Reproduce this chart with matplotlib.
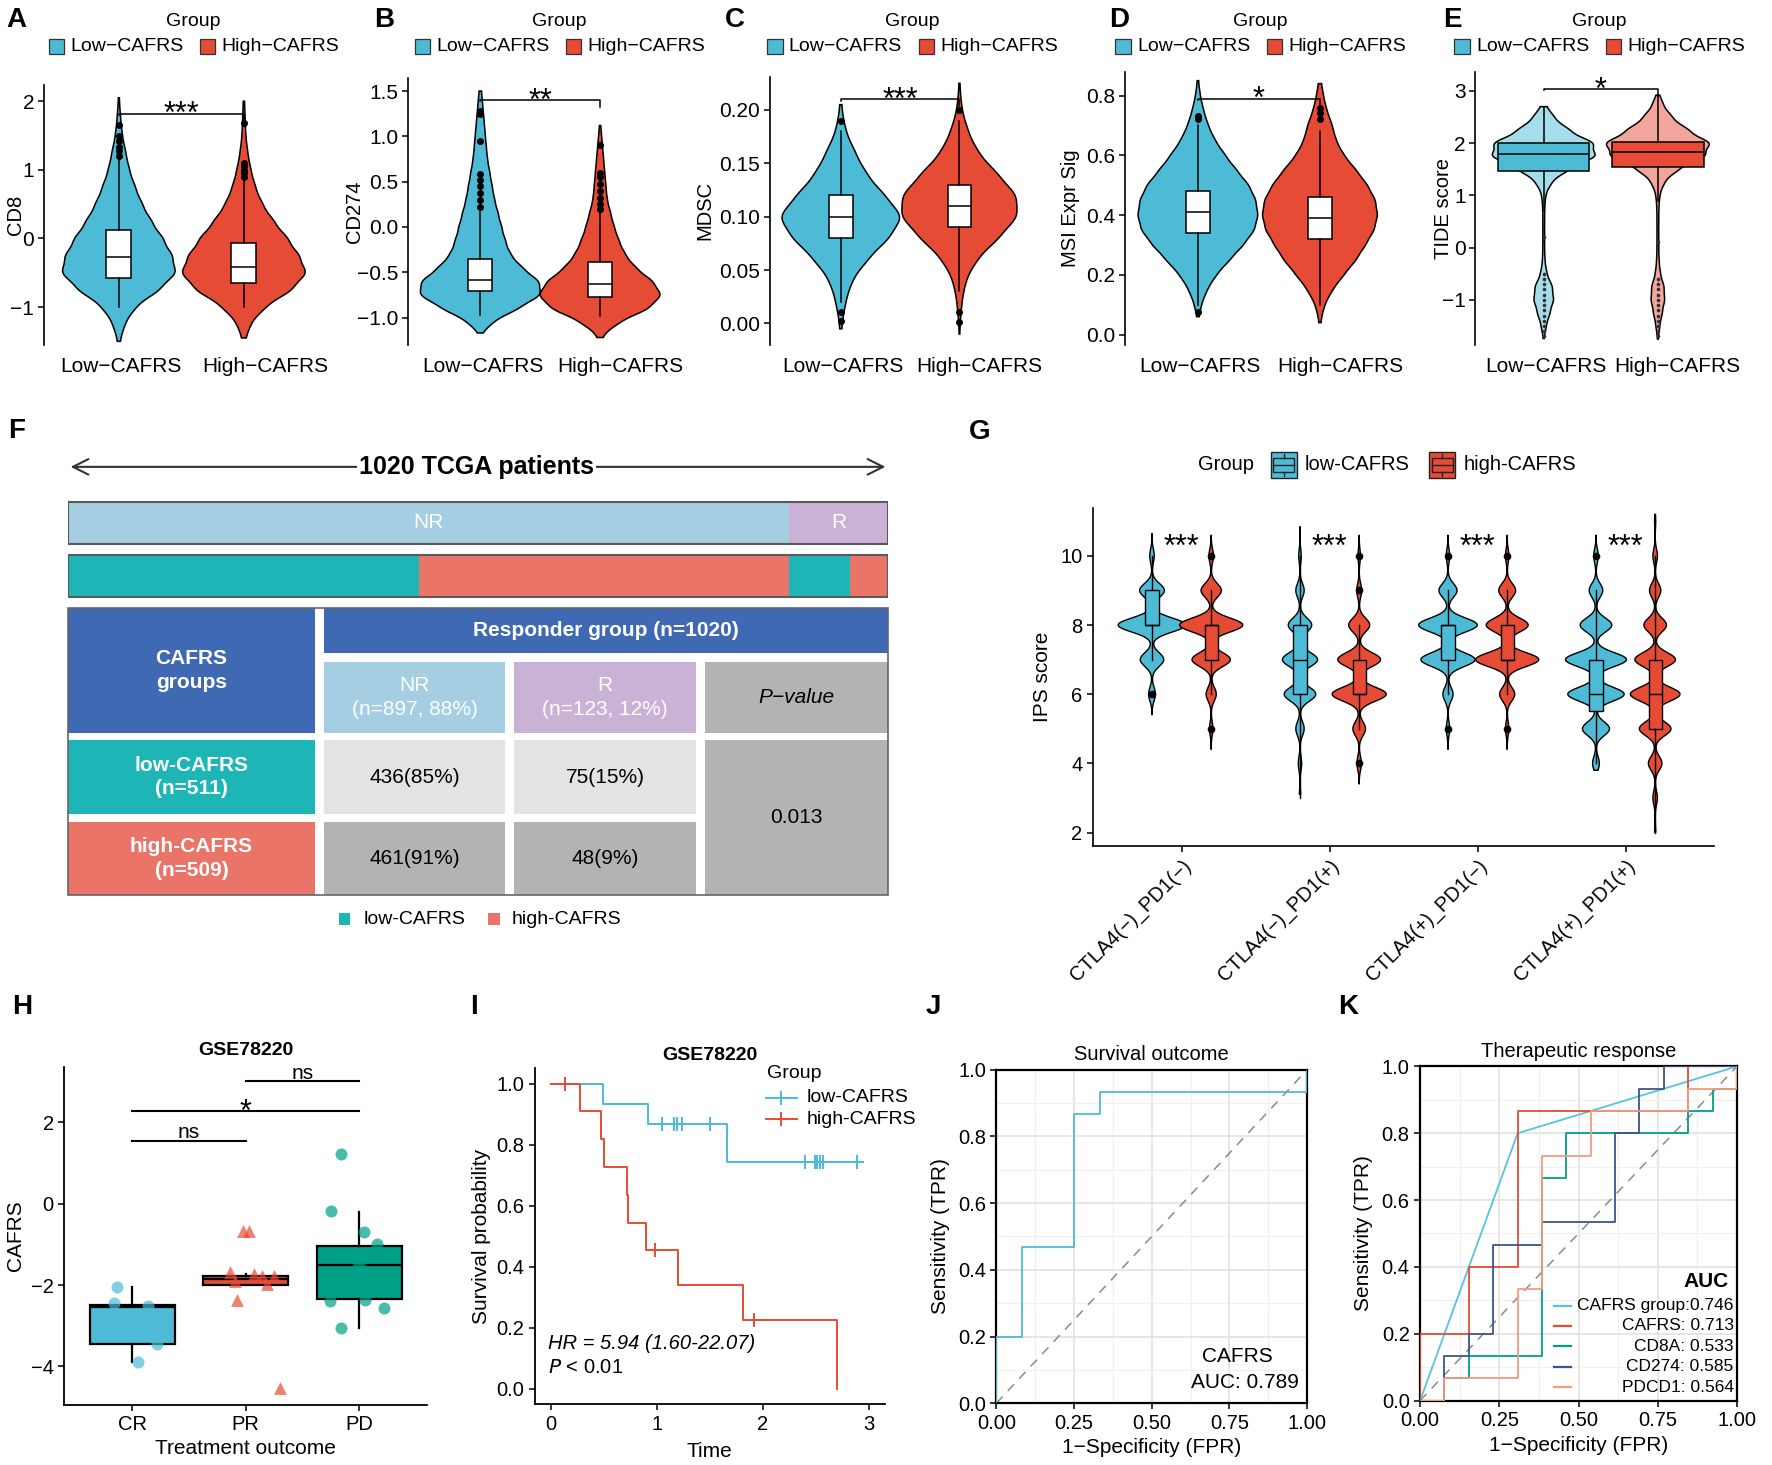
import numpy as np
import matplotlib
matplotlib.use('Agg')
import matplotlib.pyplot as plt
from matplotlib.patches import Rectangle

plt.rcParams['font.family'] = ['Liberation Sans', 'DejaVu Sans']

BLUE, RED, TEAL = '#4DBBD5', '#E64B35', '#00A087'
NAVY, SALMON = '#3C5488', '#F39B7F'
LBLUE, LRED = '#A6DDEA', '#F2A59A'

# ---------------- data: A-E violins ----------------
top_groups = ['Low\u2212CAFRS', 'High\u2212CAFRS']

cd8_levels = [-1.5, -1.25, -1.0, -0.75, -0.5, -0.25, 0.0, 0.25, 0.5, 0.75, 1.0, 1.25, 1.5, 1.75, 2.0]
cd8_dens = [[0.02, 0.1, 0.28, 0.7, 1.0, 0.92, 0.76, 0.56, 0.4, 0.28, 0.18, 0.12, 0.06, 0.03, 0.01],
            [0.02, 0.1, 0.33, 0.76, 1.0, 0.87, 0.69, 0.47, 0.29, 0.18, 0.11, 0.06, 0.03, 0.02, 0.01]]
cd8_range = [(-1.5, 2.05), (-1.45, 2.0)]
cd8_box = [(-1.0, -0.57, -0.27, 0.13, 1.15), (-1.0, -0.65, -0.42, -0.07, 0.85)]
cd8_out = [[1.2, 1.27, 1.33, 1.42, 1.5, 1.65], [0.9, 0.95, 1.0, 1.05, 1.1, 1.68]]
cd8_sig = (1.82, '***')

cd274_levels = [-1.2, -1.05, -0.9, -0.75, -0.6, -0.45, -0.3, -0.15, 0.0, 0.15, 0.3, 0.45,
                0.6, 0.75, 0.9, 1.05, 1.2, 1.35, 1.5]
cd274_dens = [[0, 10, 32, 52, 50, 35, 25, 21, 18, 15, 12, 10, 8, 6, 5, 4, 3, 2, 1],
              [2, 16, 42, 53, 45, 30, 21, 16, 12, 9, 6, 5, 4, 3, 2, 1, 0, 0, 0]]
cd274_range = [(-1.17, 1.5), (-1.22, 1.12)]
cd274_box = [(-0.97, -0.71, -0.58, -0.35, 0.17), (-0.98, -0.77, -0.63, -0.39, 0.15)]
cd274_out = [[0.22, 0.3, 0.38, 0.45, 0.52, 0.58, 0.95, 1.25, 1.28],
             [0.2, 0.25, 0.32, 0.4, 0.47, 0.55, 0.6, 0.9]]
cd274_sig = (1.40, '**')

mdsc_levels = [0.0, 0.02, 0.04, 0.06, 0.08, 0.10, 0.12, 0.14, 0.16, 0.18, 0.20, 0.22]
mdsc_dens = [[1, 4, 9, 22, 40, 52, 36, 21, 12, 4, 1, 0],
             [0.5, 2, 5, 14, 32, 48, 47, 31, 15, 7, 2, 0.5]]
mdsc_range = [(-0.005, 0.205), (-0.01, 0.225)]
mdsc_box = [(0.02, 0.08, 0.10, 0.12, 0.18), (0.03, 0.09, 0.11, 0.13, 0.19)]
mdsc_out = [[0.011, 0.002, 0.19], [0.011, 0.001, 0.20]]
mdsc_sig = (0.21, '***')

msi_levels = [0.05, 0.1, 0.15, 0.2, 0.25, 0.3, 0.35, 0.4, 0.45, 0.5, 0.55, 0.6, 0.65, 0.7,
              0.75, 0.8, 0.85]
msi_dens = [[0.5, 3, 8, 16, 28, 40, 50, 53, 51, 45, 34, 24, 15, 9, 5, 2, 0.5],
            [1, 4, 11, 21, 32, 40, 48, 51, 49, 42, 32, 21, 14, 11, 6, 3, 1]]
msi_range = [(0.06, 0.85), (0.04, 0.84)]
msi_box = [(0.1, 0.34, 0.41, 0.48, 0.70), (0.1, 0.32, 0.39, 0.46, 0.68)]
msi_out = [[0.077, 0.72, 0.73], [0.72, 0.74, 0.76]]
msi_sig = (0.79, '*')

tide_levels = [-1.75, -1.5, -1.25, -1.0, -0.75, -0.5, -0.25, 0.0, 0.25, 0.5, 0.75, 1.0,
               1.25, 1.5, 1.75, 2.0, 2.25, 2.5, 2.75, 3.0]
tide_dens = [[0.3, 2, 5, 8, 7, 2.5, 1, 0.7, 0.7, 0.7, 0.8, 1.5, 6, 20, 42, 40, 20, 8, 1.5, 0],
             [0.3, 1.5, 3.5, 5.5, 5, 2, 1, 0.7, 0.7, 0.7, 0.8, 1.5, 5, 16, 38, 42, 24, 11, 4, 0.5]]
tide_range = [(-1.74, 2.70), (-1.75, 2.92)]
tide_box = [(0.7, 1.47, 1.80, 2.01, 2.70), (0.9, 1.55, 1.83, 2.03, 2.92)]
tide_out = [[-1.7, -1.6, -1.5, -1.4, -1.3, -1.2, -1.1, -1.0, -0.9, -0.8, -0.7, -0.6, -0.5, 0.2],
            [-1.7, -1.6, -1.5, -1.4, -1.3, -1.2, -1.1, -1.0, -0.9, -0.8, -0.7, -0.6, 0.1]]
tide_sig = (3.04, '*')

# ---------------- data: F ----------------
resp_labels = ['NR', 'R']
resp_counts = [897, 123]
low_counts = [436, 75]
high_counts = [461, 48]
p_value = '0.013'

# ---------------- data: G ----------------
g_groups = ['CTLA4(\u2212)_PD1(\u2212)', 'CTLA4(\u2212)_PD1(+)', 'CTLA4(+)_PD1(\u2212)', 'CTLA4(+)_PD1(+)']
g_levels = [2, 3, 4, 5, 6, 7, 8, 9, 10, 11]
g_low_dens = [[0, 0, 0, 0, 3, 10.4, 30, 11, 2, 0],
              [0, 0.7, 1.5, 3.7, 14, 15.6, 10.4, 3.7, 1.1, 0],
              [0, 0, 0, 1.5, 4.5, 24, 26, 8, 1.5, 0],
              [0, 0, 3, 12, 25, 27, 14, 6, 2, 0]]
g_high_dens = [[0, 0, 0, 1.5, 4.5, 17, 28, 9, 2, 0],
               [0, 0, 2, 5.6, 24, 19, 9.3, 2.2, 1.1, 0],
               [0, 0, 0, 1.5, 6.7, 28, 18.6, 7.5, 1.5, 0],
               [0.5, 2, 6, 14, 22, 18, 10, 5, 2, 0.5]]
g_low_range = [(5.4, 10.65), (3.1, 10.85), (4.4, 10.6), (3.8, 10.6)]
g_high_range = [(4.4, 10.6), (3.4, 10.6), (4.4, 10.6), (2.0, 11.2)]
g_low_box = [(7, 8, 8, 9, 10), (3, 6, 7, 8, 10), (6, 7, 8, 8, 9), (4, 5.5, 6, 7, 9)]
g_high_box = [(6, 7, 8, 8, 9), (5, 6, 6, 7, 8), (6, 7, 7, 8, 9), (2, 5, 6, 7, 10)]
g_low_out = [[6], [], [5, 10], [10]]
g_high_out = [[5, 10], [4, 9, 10], [5, 10], []]
g_sig = ['***', '***', '***', '***']

# ---------------- data: H ----------------
h_groups = ['CR', 'PR', 'PD']
h_box = [(-3.9, -3.45, -2.55, -2.5, -2.05), (-2.0, -2.0, -1.86, -1.77, -1.72),
         (-3.05, -2.35, -1.5, -1.03, -0.2)]
cr_vals = [-2.05, -2.45, -2.52, -3.45, -3.9]
cr_jit = [-0.13, -0.16, 0.14, 0.22, 0.05]
pr_vals = [-0.66, -0.66, -1.68, -1.72, -1.77, -1.77, -1.89, -1.97, -2.36, -4.53]
pr_jit = [-0.02, 0.03, -0.14, 0.07, 0.14, 0.25, -0.09, 0.19, -0.08, 0.30]
pd_vals = [1.22, -0.19, -0.70, -0.99, -1.5, -2.38, -2.40, -2.56, -3.05]
pd_jit = [-0.16, -0.25, 0.04, 0.16, 0.0, 0.05, -0.26, 0.22, -0.16]
h_comp = [(1, 2, 1.55, 'ns'), (1, 3, 2.28, '*'), (2, 3, 3.01, 'ns')]

# ---------------- data: I (Kaplan-Meier) ----------------
km_low_t = [0.0, 0.49, 0.92, 1.66, 2.92]
km_low_s = [1.0, 0.933, 0.867, 0.743, 0.743]
km_low_cens = [1.05, 1.16, 1.19, 1.24, 1.50, 2.40, 2.49, 2.51, 2.54, 2.57, 2.89]
km_high_t = [0.0, 0.28, 0.47, 0.50, 0.72, 0.73, 0.90, 1.20, 1.81, 2.70]
km_high_s = [1.0, 0.909, 0.818, 0.727, 0.636, 0.545, 0.455, 0.341, 0.227, 0.0]
km_high_cens = [0.13, 0.98, 1.92]

# ---------------- data: J / K (ROC) ----------------
j_fpr = [0, 0, 0.083, 0.083, 0.25, 0.25, 0.333, 0.333, 1, 1]
j_tpr = [0, 0.2, 0.2, 0.467, 0.467, 0.867, 0.867, 0.933, 0.933, 1]
j_auc = 0.789

k_names = ['CAFRS group', 'CAFRS', 'CD8A', 'CD274', 'PDCD1']
k_auc = [0.746, 0.713, 0.533, 0.585, 0.564]
k_fpr = [[0, 0.308, 1],
         [0, 0, 0.154, 0.154, 0.308, 0.308, 0.846, 0.846, 1],
         [0, 0.077, 0.077, 0.154, 0.154, 0.385, 0.385, 0.462, 0.462, 0.846, 0.846, 0.923, 0.923, 1, 1],
         [0, 0.077, 0.077, 0.154, 0.154, 0.231, 0.231, 0.385, 0.385, 0.615, 0.615, 0.692, 0.692,
          0.769, 0.769, 1],
         [0, 0.077, 0.077, 0.308, 0.308, 0.385, 0.385, 0.538, 0.538, 0.846, 0.846, 1, 1]]
k_tpr = [[0, 0.8, 1],
         [0, 0.2, 0.2, 0.4, 0.4, 0.867, 0.867, 1, 1],
         [0, 0, 0.067, 0.067, 0.133, 0.133, 0.667, 0.667, 0.8, 0.8, 0.867, 0.867, 0.933, 0.933, 1],
         [0, 0, 0.133, 0.133, 0.2, 0.2, 0.467, 0.467, 0.533, 0.533, 0.8, 0.8, 0.933, 0.933, 1, 1],
         [0, 0, 0.067, 0.067, 0.333, 0.333, 0.733, 0.733, 0.867, 0.867, 0.933, 0.933, 1]]
k_colors = ['#56C3E0', RED, TEAL, NAVY, SALMON]

# ---------------- figure ----------------
W, H = 1568, 1296   # layout grid of the reference
fig = plt.figure(figsize=(17.72, 14.65), dpi=100)


def px_axes(x0, y0, x1, y1):
    return fig.add_axes([x0 / W, 1 - y1 / H, (x1 - x0) / W, (y1 - y0) / H])


def tick_labels(vals, fmt):
    return [(fmt % v).replace('-', '\u2212') for v in vals]


def violin(ax, x, levels, dens, rng, half, bw, fc, lw=1.1):
    lv = np.array(levels, float)
    dv = np.array(dens, float)
    grid = np.linspace(rng[0], rng[1], 400)
    prof = (dv * np.exp(-0.5 * ((grid[:, None] - lv) / bw) ** 2)).sum(axis=1)
    prof = prof / prof.max() * half
    ax.fill(np.r_[x - prof, (x + prof)[::-1]], np.r_[grid, grid[::-1]],
            fc=fc, ec='black', lw=lw, zorder=2)


def draw_boxes(ax, pos, stats, outs, width, fcs, lw=1.1, ms=4.0, fcol='black'):
    st = [dict(whislo=s[0], q1=s[1], med=s[2], q3=s[3], whishi=s[4],
               fliers=np.array(o, float)) for s, o in zip(stats, outs)]
    art = ax.bxp(st, positions=pos, widths=width, patch_artist=True, showcaps=False,
                 showfliers=True, manage_ticks=False,
                 boxprops=dict(edgecolor='black', linewidth=lw),
                 medianprops=dict(color='black', linewidth=lw),
                 whiskerprops=dict(color='black', linewidth=lw),
                 flierprops=dict(marker='o', markerfacecolor=fcol,
                                 markeredgecolor=fcol, markersize=ms))
    for patch, fc in zip(art['boxes'], fcs):
        patch.set_facecolor(fc)
    for key in art:
        for a in art[key]:
            a.set_zorder(3)


def star(ax, x, y, label, fs=22, dy=-7):
    ax.annotate(label, xy=(x, y), xytext=(0, dy), textcoords='offset points',
                ha='center', va='baseline', fontsize=fs)


# ---------------- A-E ----------------
# (ylabel, ..., axes rect, ylim, yticks, fmt, half widths, bw, box width, tide, ylabel right edge)
top_panels = [
    ('CD8', cd8_levels, cd8_dens, cd8_range, cd8_box, cd8_out, cd8_sig,
     (38.8, 75, 282.2, 305), (-1.55, 2.24), [-1, 0, 1, 2], '%d', (0.45, 0.49), 0.13, 0.2, False, 22),
    ('CD274', cd274_levels, cd274_dens, cd274_range, cd274_box, cd274_out, cd274_sig,
     (361.4, 69.3, 594.6, 305), (-1.30, 1.64), [-1.0, -0.5, 0.0, 0.5, 1.0, 1.5], '%.1f',
     (0.5, 0.5), 0.08, 0.2, False, 322),
    ('MDSC', mdsc_levels, mdsc_dens, mdsc_range, mdsc_box, mdsc_out, mdsc_sig,
     (681, 68, 912, 305), (-0.020, 0.231), [0.0, 0.05, 0.10, 0.15, 0.20], '%.2f',
     (0.495, 0.485), 0.011, 0.2, False, 632),
    ('MSI Expr Sig', msi_levels, msi_dens, msi_range, msi_box, msi_out, msi_sig,
     (995.2, 63.4, 1232.8, 305), (-0.034, 0.88), [0.0, 0.2, 0.4, 0.6, 0.8], '%.1f',
     (0.49, 0.47), 0.028, 0.2, False, 956),
    ('TIDE score', tide_levels, tide_dens, tide_range, tide_box, tide_out, tide_sig,
     (1305.4, 63.4, 1527.6, 305), (-1.86, 3.37), [-1, 0, 1, 2, 3], '%d',
     (0.45, 0.45), 0.12, 0.8, True, 1286),
]

for (ylab, lev, dens, rng, box, outs, sig, rect, ylim, yt, fmt, half, bw, bwid, tide, ylr) in top_panels:
    ax = px_axes(*rect)
    vcols = [LBLUE, LRED] if tide else [BLUE, RED]
    bcols = [BLUE, RED] if tide else ['white', 'white']
    for i in range(2):
        violin(ax, i + 1, lev, dens[i], rng[i], half[i], bw, vcols[i])
    if tide:
        draw_boxes(ax, [1, 2], box, outs, bwid, bcols, ms=1.6, fcol='#333333')
    else:
        draw_boxes(ax, [1, 2], box, outs, bwid, bcols, ms=4.0)
    tip = 0.025 * (ylim[1] - ylim[0])
    ax.plot([1, 1, 2, 2], [sig[0] - tip * 0.2, sig[0], sig[0], sig[0] - tip],
            color='black', lw=1.1, zorder=4)
    star(ax, 1.5, sig[0], sig[1])
    ax.set_xlim(0.4, 2.6)
    ax.set_ylim(*ylim)
    ax.set_yticks(yt)
    ax.set_yticklabels(tick_labels(yt, fmt))
    # category labels sit a little right of the second violin, as in the reference
    ax.set_xticks([1.02, 2.17])
    ax.set_xticklabels(top_groups)
    for s in ['top', 'right', 'bottom']:
        ax.spines[s].set_visible(False)
    ax.spines['left'].set_linewidth(1.2)
    ax.tick_params(axis='y', length=4, width=1.1, labelsize=15, pad=3)
    ax.tick_params(axis='x', length=0, labelsize=15, pad=9)
    ax.set_ylabel(ylab, fontsize=14.5)
    ax.yaxis.set_label_coords((ylr - rect[0]) / (rect[2] - rect[0]), 0.5)
    ax.patch.set_alpha(0)

# ---------------- F: stacked bars ----------------
axb = px_axes(60, 440, 786, 532)
axb.barh(462.5, resp_counts, left=[0, resp_counts[0]], height=37,
         color=['#A6CEE3', '#CAB2D6'])
seg = [low_counts[0], high_counts[0], low_counts[1], high_counts[1]]
axb.barh(509.5, seg, left=np.r_[0, np.cumsum(seg)[:-1]], height=37,
         color=['#1DB5B5', '#EB7469', '#1DB5B5', '#EB7469'])
for yc in [462.5, 509.5]:
    axb.barh(yc, sum(resp_counts), height=37, fill=False, edgecolor='#5A5A5A', lw=1.5)
axb.text(resp_counts[0] / 2, 462.5, resp_labels[0], ha='center', va='center', color='white', fontsize=15)
axb.text(resp_counts[0] + resp_counts[1] / 2, 462.5, resp_labels[1], ha='center', va='center',
         color='white', fontsize=15)
axb.set_xlim(0, sum(resp_counts))
axb.set_ylim(532, 440)
axb.axis('off')

# ---------------- G ----------------
axg = px_axes(967, 449.8, 1517, 748.4)
gx = np.arange(1, len(g_groups) + 1)
for i, g in enumerate(gx):
    violin(axg, g - 0.2, g_levels, g_low_dens[i], g_low_range[i], max(g_low_dens[i]) / 131.3,
           0.2, BLUE, lw=1.0)
    violin(axg, g + 0.2, g_levels, g_high_dens[i], g_high_range[i], max(g_high_dens[i]) / 131.3,
           0.2, RED, lw=1.0)
draw_boxes(axg, gx - 0.2, g_low_box, g_low_out, 0.09, [BLUE] * 4, lw=1.0, ms=4.5)
draw_boxes(axg, gx + 0.2, g_high_box, g_high_out, 0.09, [RED] * 4, lw=1.0, ms=4.5)
for g, s in zip(gx, g_sig):
    axg.text(g, 10.0, s, ha='center', va='baseline', fontsize=22)
axg.set_xlim(0.4, 4.6)
axg.set_ylim(1.61, 11.37)
axg.set_yticks([2, 4, 6, 8, 10])
axg.set_xticks(gx)
axg.set_xticklabels(g_groups, rotation=45, ha='right', rotation_mode='anchor')
for s in ['top', 'right']:
    axg.spines[s].set_visible(False)
axg.spines['left'].set_linewidth(1.2)
axg.spines['bottom'].set_linewidth(1.2)
axg.tick_params(length=4, width=1.1, labelsize=14.5)
axg.set_ylabel('IPS score', fontsize=15, labelpad=6)

# ---------------- H ----------------
axh = px_axes(56.7, 943.5, 378, 1242.5)
h_cols = [BLUE, RED, TEAL]
draw_boxes(axh, [1, 2, 3], h_box, [[], [], []], 0.75, h_cols, lw=1.6)
axh.scatter(1 + np.array(cr_jit), cr_vals, s=75, color=BLUE, alpha=0.7, lw=0, zorder=5)
axh.scatter(2 + np.array(pr_jit), pr_vals, s=85, marker='^', color=RED, alpha=0.7, lw=0, zorder=5)
axh.scatter(3 + np.array(pd_jit), pd_vals, s=75, color=TEAL, alpha=0.7, lw=0, zorder=5)
for a, b, yv, lab in h_comp:
    axh.plot([a, b], [yv, yv], color='black', lw=1.5)
    if lab == 'ns':
        axh.annotate(lab, xy=((a + b) / 2, yv), xytext=(0, 2), textcoords='offset points',
                     ha='center', va='baseline', fontsize=15)
    else:
        star(axh, (a + b) / 2, yv, lab)
axh.set_xlim(0.4, 3.6)
axh.set_ylim(-4.94, 3.375)
axh.set_yticks([-4, -2, 0, 2])
axh.set_yticklabels(tick_labels([-4, -2, 0, 2], '%d'))
axh.set_xticks([1, 2, 3])
axh.set_xticklabels(h_groups)
for s in ['top', 'right']:
    axh.spines[s].set_visible(False)
axh.spines['left'].set_linewidth(1.3)
axh.spines['bottom'].set_linewidth(1.3)
axh.tick_params(length=4, width=1.1, labelsize=14.5)
axh.set_ylabel('CAFRS', fontsize=15, labelpad=4)
axh.set_xlabel('Treatment outcome', fontsize=15, labelpad=4)
axh.set_title('GSE78220', fontsize=14, fontweight='bold', pad=8)

# ---------------- I ----------------
axi = px_axes(473.3, 945.2, 782.9, 1242.2)


def surv_at(times, surv, t):
    idx = np.searchsorted(times, t, side='right') - 1
    return np.array(surv)[idx]


for tt, ss, cc, col in [(km_low_t, km_low_s, km_low_cens, BLUE),
                        (km_high_t, km_high_s, km_high_cens, RED)]:
    axi.step(tt, ss, where='post', color=col, lw=1.4)
    axi.plot(cc, surv_at(tt, ss, cc), ls='none', marker='+', ms=10, mew=1.4, color=col)
axi.text(-0.03, 0.15, 'HR = 5.94 (1.60-22.07)', fontsize=14.5, fontstyle='italic', va='center')
axi.text(-0.03, 0.07, '$\\it{P}$ < 0.01', fontsize=14.5, va='center')
axi.set_xlim(-0.15, 3.15)
axi.set_ylim(-0.05, 1.05)
axi.set_xticks([0, 1, 2, 3])
axi.set_yticks([0, 0.2, 0.4, 0.6, 0.8, 1.0])
axi.set_yticklabels(tick_labels([0, 0.2, 0.4, 0.6, 0.8, 1.0], '%.1f'))
for s in ['top', 'right']:
    axi.spines[s].set_visible(False)
axi.spines['left'].set_linewidth(1.3)
axi.spines['bottom'].set_linewidth(1.3)
axi.tick_params(length=4, width=1.1, labelsize=14.5)
axi.set_ylabel('Survival probability', fontsize=15, labelpad=4)
axi.set_xlabel('Time', fontsize=15, labelpad=6)
axi.set_title('GSE78220', fontsize=14, fontweight='bold', pad=6)


# ---------------- J / K ----------------
def roc_style(ax, title):
    ax.set_xlim(0, 1)
    ax.set_ylim(0, 1)
    ax.set_xticks([0, 0.25, 0.5, 0.75, 1.0])
    ax.set_xticklabels(['0.00', '0.25', '0.50', '0.75', '1.00'])
    ax.set_yticks([0, 0.2, 0.4, 0.6, 0.8, 1.0])
    ax.set_yticklabels(['0.0', '0.2', '0.4', '0.6', '0.8', '1.0'])
    ax.set_xticks([0.125, 0.375, 0.625, 0.875], minor=True)
    ax.set_yticks([0.1, 0.3, 0.5, 0.7, 0.9], minor=True)
    ax.grid(which='major', color='#E2E2E2', lw=1.2)
    ax.grid(which='minor', color='#F0F0F0', lw=0.9)
    ax.set_axisbelow(True)
    ax.tick_params(which='minor', length=0)
    ax.tick_params(which='major', length=4, width=1.1, labelsize=14.5)
    for s in ax.spines.values():
        s.set_linewidth(1.6)
    ax.plot([0, 1], [0, 1], color='#8A8A8A', lw=1.1, ls=(0, (6, 5)), zorder=1)
    ax.set_xlabel('1\u2212Specificity (FPR)', fontsize=15, labelpad=4)
    ax.set_ylabel('Sensitivity (TPR)', fontsize=15, labelpad=6)
    ax.set_title(title, fontsize=14.5, pad=7)


axj = px_axes(881.6, 946.3, 1156.7, 1241.4)
roc_style(axj, 'Survival outcome')
axj.plot(j_fpr, j_tpr, color=BLUE, lw=1.3, zorder=3)
axj.text(0.775, 0.14, 'CAFRS', ha='center', va='center', fontsize=15)
axj.text(0.80, 0.063, 'AUC: %.3f' % j_auc, ha='center', va='center', fontsize=15)

axk = px_axes(1256.6, 943.4, 1537, 1239)
roc_style(axk, 'Therapeutic response')
for fp, tp, col in zip(k_fpr, k_tpr, k_colors):
    axk.plot(fp, tp, color=col, lw=1.3, zorder=3)

# ---------------- overlay: letters, legends, table ----------------
ov = fig.add_axes([0, 0, 1, 1])
ov.set_xlim(0, W)
ov.set_ylim(H, 0)
ov.axis('off')

letters = [('A', 14, 18), ('B', 340, 18), ('C', 650, 18), ('D', 990, 18), ('E', 1285, 18),
           ('F', 15, 381), ('G', 867, 382), ('H', 20, 891), ('I', 419, 891), ('J', 826, 891),
           ('K', 1193, 891)]
for t, x, y in letters:
    ov.text(x, y, t, fontsize=20, fontweight='bold', ha='center', va='center')

# legends of A-E
for cx in [171, 495, 807, 1115, 1415]:
    ov.text(cx, 19, 'Group', ha='center', va='center', fontsize=14)
    ov.add_patch(Rectangle((cx - 128, 34.5), 13.5, 13.5, fc=BLUE, ec='#333333', lw=0.9))
    ov.text(cx - 109, 41.5, top_groups[0], va='center', fontsize=14)
    ov.add_patch(Rectangle((cx + 6, 34.5), 13.5, 13.5, fc=RED, ec='#333333', lw=0.9))
    ov.text(cx + 25, 41.5, top_groups[1], va='center', fontsize=14)


# legend of G (box glyph keys)
def box_key(x0, y0, w, h, fc):
    ov.add_patch(Rectangle((x0, y0), w, h, fc=fc, ec='#222222', lw=1.0))
    ov.add_patch(Rectangle((x0 + 0.1 * w, y0 + 0.25 * h), 0.8 * w, 0.5 * h, fc=fc, ec='#222222', lw=1.0))
    ov.plot([x0 + 0.1 * w, x0 + 0.9 * w], [y0 + 0.5 * h] * 2, color='#222222', lw=1.0)
    ov.plot([x0 + w / 2] * 2, [y0 + 0.1 * h, y0 + 0.25 * h], color='#222222', lw=1.0)
    ov.plot([x0 + w / 2] * 2, [y0 + 0.75 * h, y0 + 0.9 * h], color='#222222', lw=1.0)


ov.text(1085, 411, 'Group', ha='center', va='center', fontsize=14.5)
box_key(1124.5, 399.7, 23, 23.6, BLUE)
ov.text(1154, 411, 'low-CAFRS', va='center', fontsize=14.5)
box_key(1264.7, 399.7, 23, 23.6, RED)
ov.text(1295, 411, 'high-CAFRS', va='center', fontsize=14.5)

# legend of I
ov.text(679, 950, 'Group', va='center', fontsize=14)
for yy, col, lab in [(971, BLUE, 'low-CAFRS'), (990, RED, 'high-CAFRS')]:
    ov.plot([678, 705], [yy, yy], color=col, lw=1.4)
    ov.plot([691.5], [yy], marker='+', ms=10, mew=1.4, color=col)
    ov.text(714, yy, lab, va='center', fontsize=14)

# legend of K
ov.text(1530, 1134, 'AUC', ha='right', va='center', fontsize=15, fontweight='bold')
for i, (nm, auc, col) in enumerate(zip(k_names, k_auc, k_colors)):
    yy = 1155 + 18 * i
    sep = ':' if i == 0 else ': '
    ov.plot([1375, 1390], [yy, yy], color=col, lw=1.6)
    ov.text(1534, yy, nm + sep + '%.3f' % auc, ha='right', va='center', fontsize=12.5)

# F: arrow and title
ov.annotate('', xy=(60, 413), xytext=(786, 413),
            arrowprops=dict(arrowstyle='<->', lw=1.5, color='#333333', mutation_scale=28))
ov.text(422, 413, '%d TCGA patients' % sum(resp_counts), ha='center', va='center', fontsize=18,
        fontweight='bold', bbox=dict(fc='white', ec='none', pad=1.5))


# F: table
def cell(x0, y0, x1, y1, fc, text='', color='white', weight='normal', style='normal'):
    ov.add_patch(Rectangle((x0, y0), x1 - x0, y1 - y0, fc=fc, ec='none'))
    if text:
        ov.text((x0 + x1) / 2, (y0 + y1) / 2, text, ha='center', va='center', color=color,
                fontsize=15, fontweight=weight, fontstyle=style, linespacing=1.3)


HDR, GRAY, LGRAY = '#3F6AB3', '#B3B3B3', '#E3E3E3'
n_total = sum(resp_counts)
n_low, n_high = sum(low_counts), sum(high_counts)
cell(60, 538, 279, 648, HDR, 'CAFRS\ngroups', weight='bold')
cell(287, 538, 786, 578, HDR, 'Responder group (n=%d)' % n_total, weight='bold')
cell(287, 586, 447, 648, '#A6CEE3', '%s\n(n=%d, %d%%)' % (resp_labels[0], resp_counts[0],
                                                        round(100 * resp_counts[0] / n_total)))
cell(455, 586, 616, 648, '#CAB2D6', '%s\n(n=%d, %d%%)' % (resp_labels[1], resp_counts[1],
                                                        round(100 * resp_counts[1] / n_total)))
cell(624, 586, 786, 648, GRAY, 'P\u2212value', color='black', style='italic')
cell(60, 655, 279, 720, '#1DB5B5', 'low-CAFRS\n(n=%d)' % n_low, weight='bold')
cell(287, 655, 447, 720, LGRAY, '%d(%d%%)' % (low_counts[0], round(100 * low_counts[0] / n_low)),
     color='black')
cell(455, 655, 616, 720, LGRAY, '%d(%d%%)' % (low_counts[1], round(100 * low_counts[1] / n_low)),
     color='black')
cell(60, 727, 279, 792, '#EB7469', 'high-CAFRS\n(n=%d)' % n_high, weight='bold')
cell(287, 727, 447, 792, GRAY, '%d(%d%%)' % (high_counts[0], round(100 * high_counts[0] / n_high)),
     color='black')
cell(455, 727, 616, 792, GRAY, '%d(%d%%)' % (high_counts[1], round(100 * high_counts[1] / n_high)),
     color='black')
cell(624, 655, 786, 792, GRAY, p_value, color='black')
ov.add_patch(Rectangle((60, 538), 726, 254, fill=False, ec='#666666', lw=1.2))

# F: legend
ov.add_patch(Rectangle((300, 808), 10, 10, fc='#1DB5B5', ec='none'))
ov.text(322, 813, 'low-CAFRS', va='center', fontsize=14)
ov.add_patch(Rectangle((432, 808), 10, 10, fc='#EB7469', ec='none'))
ov.text(453, 813, 'high-CAFRS', va='center', fontsize=14)

fig.savefig('out.png', dpi=100)
